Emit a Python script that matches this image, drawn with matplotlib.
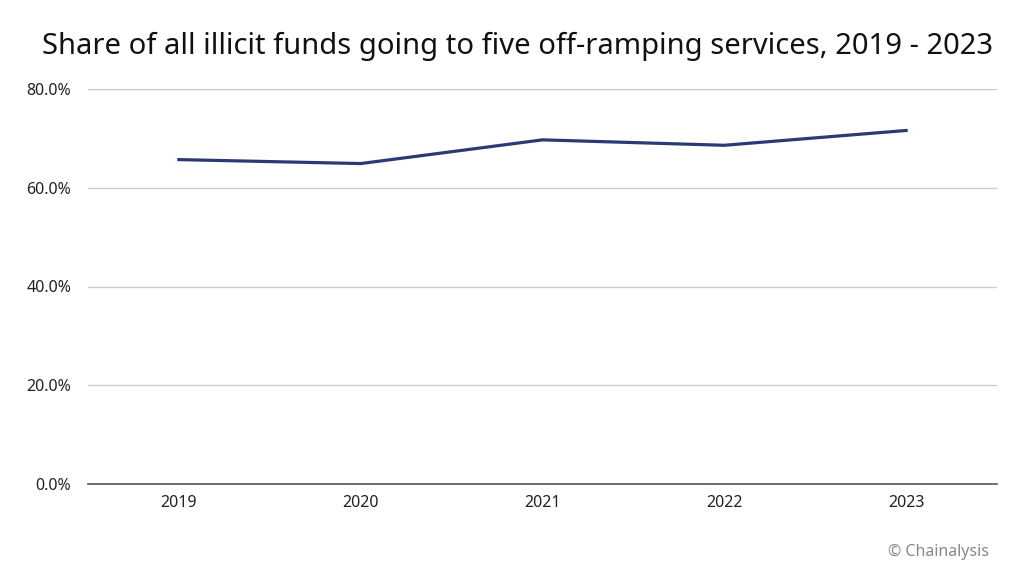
import matplotlib.pyplot as plt
from matplotlib.ticker import FuncFormatter

plt.rcParams['font.family'] = ['Noto Sans', 'DejaVu Sans']

# Data
years = ["2019", "2020", "2021", "2022", "2023"]
share = [65.7, 64.9, 69.7, 68.6, 71.6]  # percent
y_ticks = [0, 20, 40, 60, 80]

fig = plt.figure(figsize=(10.24, 5.77), dpi=100)
ax = fig.add_axes([88 / 1024, 1 - 484 / 577, (997 - 88) / 1024, (484 - 89) / 577])

x = list(range(len(years)))
ax.plot(x, share, color="#2b3a74", lw=2.3, solid_joinstyle="miter")

ax.set_xlim(-0.5, len(years) - 0.5)
ax.set_ylim(0, 80)
ax.set_yticks(y_ticks)
ax.yaxis.set_major_formatter(FuncFormatter(lambda v, _: f"{v:.1f}%"))
ax.set_xticks(x)
ax.set_xticklabels(years)

ax.grid(axis="y", color="#cccccc", lw=1)
ax.set_axisbelow(True)
for side in ["top", "right", "left"]:
    ax.spines[side].set_visible(False)
ax.spines["bottom"].set_color("#555555")
ax.spines["bottom"].set_linewidth(1.2)
ax.tick_params(axis="both", length=0, labelsize=11.5, colors="#222222")
ax.tick_params(axis="y", pad=12)
ax.tick_params(axis="x", pad=8)

fig.text(0.505, 1 - 46 / 577, "Share of all illicit funds going to five off-ramping services, 2019 - 2023",
         ha="center", va="center", fontsize=21, color="#111111")
fig.text(989 / 1024, 1 - 552 / 577, "© Chainalysis", ha="right", va="center",
         fontsize=11.5, color="#888888")

fig.savefig("out.png", dpi=100)
